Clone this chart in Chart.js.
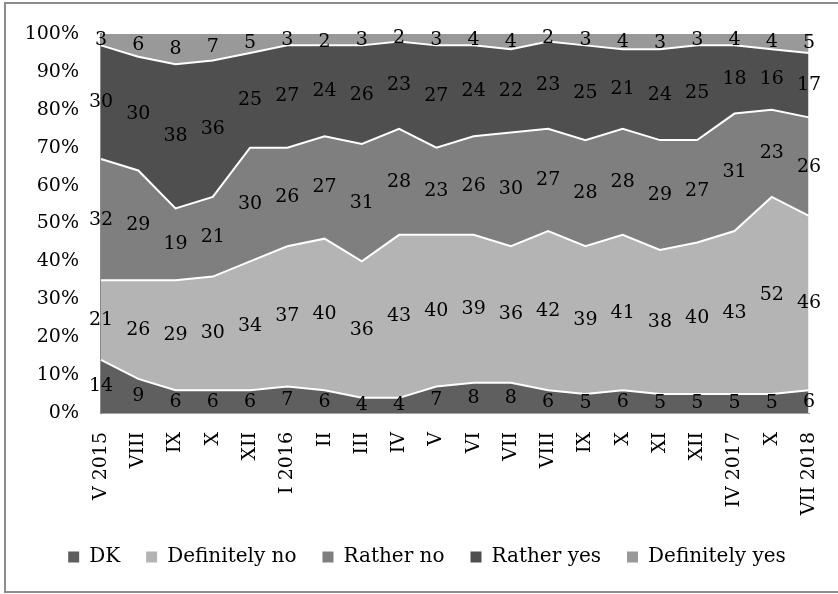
<!DOCTYPE html>
<html>
<head>
<meta charset="utf-8">
<script src="https://cdn.jsdelivr.net/npm/chart.js@4/dist/chart.umd.min.js"></script>
<style>
  html, body { margin: 0; padding: 0; background: #fff; }
  #wrap { position: relative; width: 838px; height: 594px; overflow: hidden; }
  #frame { position: absolute; left: 4px; top: 2px; width: 850px; height: 587px; border: 2px solid #8c8c8c; pointer-events: none; }
</style>
</head>
<body>
<div id="wrap">
  <canvas id="c" width="838" height="594"></canvas>
  <div id="frame"></div>
</div>
<script>
const categories = ["V 2015","VIII","IX","X","XII","I 2016","II","III","IV","V","VI","VII","VIII","IX","X","XI","XII","IV 2017","X","VII 2018"];
const dk            = [14, 9, 6, 6, 6, 7, 6, 4, 4, 7, 8, 8, 6, 5, 6, 5, 5, 5, 5, 6];
const definitelyNo  = [21,26,29,30,34,37,40,36,43,40,39,36,42,39,41,38,40,43,52,46];
const ratherNo      = [32,29,19,21,30,26,27,31,28,23,26,30,27,28,28,29,27,31,23,26];
const ratherYes     = [30,30,38,36,25,27,24,26,23,27,24,22,23,25,21,24,25,18,16,17];
const definitelyYes = [ 3, 6, 8, 7, 5, 3, 2, 3, 2, 3, 4, 4, 2, 3, 4, 3, 3, 4, 4, 5];
const yTicks = [0,10,20,30,40,50,60,70,80,90,100];

const FONT = "DejaVu Serif";
const FS = 19;

const colors = {
  dk: "#5f5f5f",
  defNo: "#b4b4b4",
  ratherNo: "#7f7f7f",
  ratherYes: "#4f4f4f",
  defYes: "#999999"
};

const plotBg = {
  id: "plotBg",
  beforeDatasetsDraw(chart) {
    const {ctx, chartArea: a} = chart;
    ctx.save();
    ctx.fillStyle = colors.defYes;
    ctx.fillRect(a.left, a.top, a.right - a.left, a.bottom - a.top);
    ctx.restore();
  },
  afterDatasetsDraw(chart) {
    const {ctx, chartArea: a} = chart;
    ctx.save();
    ctx.strokeStyle = "#ffffff";
    ctx.lineWidth = 1.5;
    ctx.beginPath();
    ctx.moveTo(a.right, a.top);
    ctx.lineTo(a.right, a.bottom);
    ctx.stroke();
    ctx.restore();
  }
};

const bandLabels = {
  id: "bandLabels",
  afterDatasetsDraw(chart) {
    const {ctx} = chart;
    const yScale = chart.scales.y;
    ctx.save();
    ctx.font = FS + "px '" + FONT + "'";
    ctx.fillStyle = "#000";
    ctx.textAlign = "center";
    ctx.textBaseline = "middle";
    chart.data.datasets.forEach((ds, i) => {
      const meta = chart.getDatasetMeta(i);
      const prev = i > 0 ? chart.getDatasetMeta(i - 1) : null;
      meta.data.forEach((pt, j) => {
        const top = Math.max(pt.y, yScale.top);
        const bottom = prev ? prev.data[j].y : yScale.getPixelForValue(0);
        ctx.fillText(String(ds.data[j]), pt.x, (top + bottom) / 2);
      });
    });
    ctx.restore();
  }
};

function ds(label, data, color, fill, border) {
  return {
    label, data,
    backgroundColor: color,
    borderColor: "#ffffff",
    borderWidth: border,
    fill,
    pointRadius: 0,
    tension: 0
  };
}

new Chart(document.getElementById("c"), {
  type: "line",
  data: {
    labels: categories,
    datasets: [
      ds("DK", dk, colors.dk, "origin", 2),
      ds("Definitely no", definitelyNo, colors.defNo, "-1", 2),
      ds("Rather no", ratherNo, colors.ratherNo, "-1", 2),
      ds("Rather yes", ratherYes, colors.ratherYes, "-1", 2),
      ds("Definitely yes", definitelyYes, colors.defYes, "-1", 0)
    ]
  },
  options: {
    responsive: false,
    animation: false,
    layout: { padding: { left: 16, right: 0, top: 34, bottom: 17 } },
    plugins: {
      legend: {
        position: "bottom",
        labels: {
          font: { family: FONT, size: 20 },
          color: "#000",
          boxWidth: 11,
          boxHeight: 11,
          padding: 26,
          generateLabels(chart) {
            const items = Chart.defaults.plugins.legend.labels.generateLabels(chart);
            items.forEach(it => { it.strokeStyle = it.fillStyle; it.lineWidth = 0; });
            return items;
          }
        }
      },
      tooltip: { enabled: false }
    },
    scales: {
      x: {
        offset: false,
        grid: { display: false, drawTicks: false },
        border: { display: true, color: "#a6a6a6", width: 2 },
        ticks: {
          font: { family: FONT, size: FS },
          color: "#000",
          minRotation: 90,
          maxRotation: 90,
          autoSkip: false,
          padding: 19
        },
        afterFit(s) { s.height = 108; s.paddingRight = 29; }
      },
      y: {
        stacked: true,
        min: 0,
        max: 100,
        afterBuildTicks(s) { s.ticks = yTicks.map(v => ({ value: v })); },
        grid: { display: false, drawTicks: false },
        border: { display: true, color: "#8c8c8c", width: 2 },
        ticks: {
          font: { family: FONT, size: FS },
          color: "#000",
          padding: 22,
          callback: v => v + "%"
        },
        afterFit(s) { s.width = 85; }
      }
    }
  },
  plugins: [plotBg, bandLabels]
});
</script>
</body>
</html>
